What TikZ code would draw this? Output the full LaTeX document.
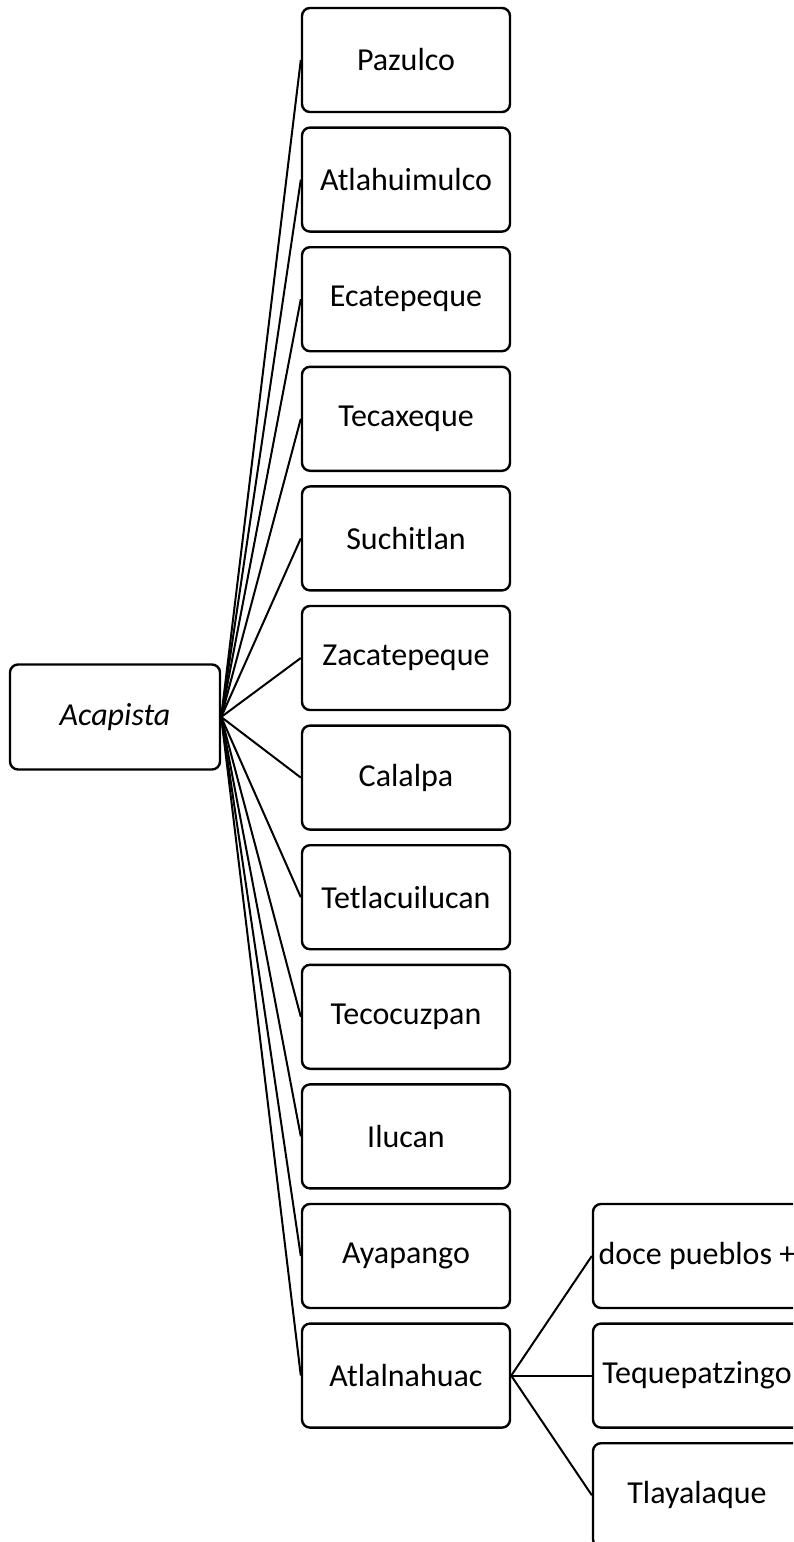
\documentclass[tikz,border=0pt]{standalone}
\usepackage{fontspec}
\setmainfont{Carlito}
\usepackage{tikz}

\begin{document}
\begin{tikzpicture}[x = 0.5pt, y = -0.5pt,
    box/.style = {draw, rounded corners=4pt, line width=1.2pt,
                  minimum width=104pt, minimum height=52pt,
                  inner sep=0pt, font=\fontsize{16}{19.5}\selectfont},
    link/.style = {line width=1pt}]

    % page frame %
    \clip (0, 0) rectangle (793, 1542) ;

    % root %
    \node [box, minimum width=105pt, minimum height=52.5pt]
          at (115, 717) (root) {\itshape Acapista} ;


    % first column %

    % Pazulco
    \node [box] at (406, 60) (box-pazulco) {Pazulco} ;
    \draw [link] (root.east) -- (box-pazulco.west) ;

    % Atlahuimulco
    \node [box] at (406, 179.6) (box-atlahuimulco) {Atlahuimulco} ;
    \draw [link] (root.east) -- (box-atlahuimulco.west) ;

    % Ecatepeque
    \node [box] at (406, 299.2) (box-ecatepeque) {Ecatepeque} ;
    \draw [link] (root.east) -- (box-ecatepeque.west) ;

    % Tecaxeque
    \node [box] at (406, 418.8) (box-tecaxeque) {Tecaxeque} ;
    \draw [link] (root.east) -- (box-tecaxeque.west) ;

    % Suchitlan
    \node [box] at (406, 538.4) (box-suchitlan) {Suchitlan} ;
    \draw [link] (root.east) -- (box-suchitlan.west) ;

    % Zacatepeque
    \node [box] at (406, 658) (box-zacatepeque) {Zacatepeque} ;
    \draw [link] (root.east) -- (box-zacatepeque.west) ;

    % Calalpa
    \node [box] at (406, 777.6) (box-calalpa) {Calalpa} ;
    \draw [link] (root.east) -- (box-calalpa.west) ;

    % Tetlacuilucan
    \node [box] at (406, 897.2) (box-tetlacuilucan) {Tetlacuilucan} ;
    \draw [link] (root.east) -- (box-tetlacuilucan.west) ;

    % Tecocuzpan
    \node [box] at (406, 1016.8) (box-tecocuzpan) {Tecocuzpan} ;
    \draw [link] (root.east) -- (box-tecocuzpan.west) ;

    % Ilucan
    \node [box] at (406, 1136.4) (box-ilucan) {Ilucan} ;
    \draw [link] (root.east) -- (box-ilucan.west) ;

    % Ayapango
    \node [box] at (406, 1256) (box-ayapango) {Ayapango} ;
    \draw [link] (root.east) -- (box-ayapango.west) ;

    % Atlalnahuac
    \node [box] at (406, 1375.6) (box-atlalnahuac) {Atlalnahuac} ;
    \draw [link] (root.east) -- (box-atlalnahuac.west) ;


    % second column (under Atlalnahuac) %

    % doce pueblos
    \node [box] at (697, 1256) (box-doce) {doce pueblos +} ;
    \draw [link] (box-atlalnahuac.east) -- (box-doce.west) ;

    % Tequepatzingo
    \node [box] at (697, 1375.6) (box-tequepatzingo) {Tequepatzingo} ;
    \draw [link] (box-atlalnahuac.east) -- (box-tequepatzingo.west) ;

    % Tlayalaque
    \node [box] at (697, 1495.2) (box-tlayalaque) {Tlayalaque} ;
    \draw [link] (box-atlalnahuac.east) -- (box-tlayalaque.west) ;

\end{tikzpicture}
\end{document}
